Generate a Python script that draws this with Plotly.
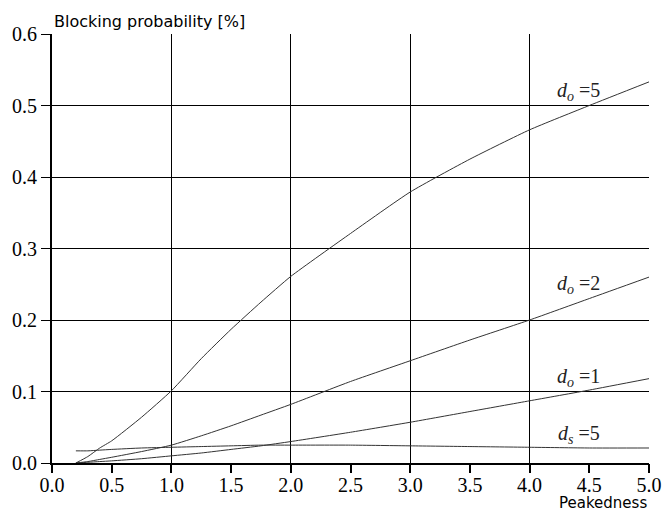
import plotly.graph_objects as go

peakedness = [0.2, 0.3, 0.4, 0.5, 0.75, 1.0, 1.25, 1.5, 1.75, 2.0, 2.5, 3.0, 3.5, 4.0, 4.5, 5.0]
do5 = [0.0, 0.009, 0.021, 0.031, 0.064, 0.101, 0.146, 0.187, 0.225, 0.261, 0.321, 0.379, 0.425, 0.466, 0.500, 0.533]
do2 = [0.0, 0.002, 0.005, 0.008, 0.016, 0.025, 0.038, 0.052, 0.067, 0.082, 0.114, 0.143, 0.172, 0.200, 0.230, 0.260]
do1 = [0.0, 0.001, 0.002, 0.003, 0.006, 0.010, 0.014, 0.019, 0.024, 0.030, 0.043, 0.057, 0.072, 0.087, 0.102, 0.118]
ds5 = [0.017, 0.017, 0.018, 0.019, 0.021, 0.022, 0.023, 0.024, 0.025, 0.025, 0.025, 0.024, 0.023, 0.022, 0.021, 0.021]

labels = ["<i>d</i><sub><i>o</i></sub> =5", "<i>d</i><sub><i>o</i></sub> =2",
          "<i>d</i><sub><i>o</i></sub> =1", "<i>d</i><sub><i>s</i></sub> =5"]
label_x = [4.41, 4.41, 4.41, 4.41]
label_y = [0.519, 0.250, 0.120, 0.0405]

xticks = [0.0, 0.5, 1.0, 1.5, 2.0, 2.5, 3.0, 3.5, 4.0, 4.5, 5.0]
yticks = [0.0, 0.1, 0.2, 0.3, 0.4, 0.5, 0.6]

serif = "Liberation Serif"
sans = "DejaVu Sans"
fig = go.Figure()
for ys in [do5, do2, do1, ds5]:
    fig.add_trace(go.Scatter(x=peakedness, y=ys, mode="lines",
                             line=dict(color="#333333", width=1, shape="spline", smoothing=0.5),
                             showlegend=False, hoverinfo="skip"))
# invisible traces so the overlay axes (integer grid, tick marks) are drawn
for ax in ["x2", "x3"]:
    fig.add_trace(go.Scatter(x=[0, 5], y=[0, 0], xaxis=ax, mode="lines",
                             line=dict(width=0), showlegend=False, hoverinfo="skip"))

for t, x, y in zip(labels, label_x, label_y):
    fig.add_annotation(x=x, y=y, text=t, showarrow=False,
                       font=dict(family=serif, size=20, color="#222"))

fig.update_layout(
    width=662, height=512,
    margin=dict(l=52, r=13, t=34, b=49),
    plot_bgcolor="white", paper_bgcolor="white",
    xaxis=dict(range=[0, 5], tickvals=xticks, ticktext=[f"{v:.1f}" for v in xticks],
               showgrid=False, zeroline=False, showline=True, linecolor="black", linewidth=2,
               ticks="", automargin=False, ticklabelstandoff=3,
               tickfont=dict(family=serif, size=20, color="black")),
    xaxis2=dict(range=[0, 5], overlaying="x", side="bottom", dtick=1, tick0=0,
                showgrid=True, gridcolor="black", gridwidth=1, showticklabels=False,
                ticks="", zeroline=False, showline=False, automargin=False),
    xaxis3=dict(range=[0, 5], overlaying="x", side="bottom", tickvals=xticks,
                showgrid=False, showticklabels=False, ticks="outside", ticklen=9,
                tickwidth=1.5, tickcolor="black", zeroline=False, showline=False,
                automargin=False),
    yaxis=dict(range=[0, 0.6], tickvals=yticks, ticktext=[f"{v:.1f}" for v in yticks],
               showgrid=True, gridcolor="black", gridwidth=1, zeroline=False,
               showline=True, linecolor="black", linewidth=2, automargin=False,
               ticks="outside", ticklen=9, tickcolor="black",
               tickfont=dict(family=serif, size=20, color="black")),
)
fig.add_annotation(xref="paper", yref="paper", x=0.0, y=1.0, yshift=1, xanchor="left", yanchor="bottom",
                   text="Blocking probability [%]", showarrow=False,
                   font=dict(family=sans, size=16, color="black"))
fig.add_annotation(xref="paper", yref="paper", x=1.0, y=0, yshift=-29, xanchor="right", yanchor="top",
                   text="Peakedness", showarrow=False,
                   font=dict(family=sans, size=15, color="black"))
fig.write_html("out.html", config={"displayModeBar": False},
               post_script="document.body.style.margin='0';document.body.style.overflow='hidden';")
